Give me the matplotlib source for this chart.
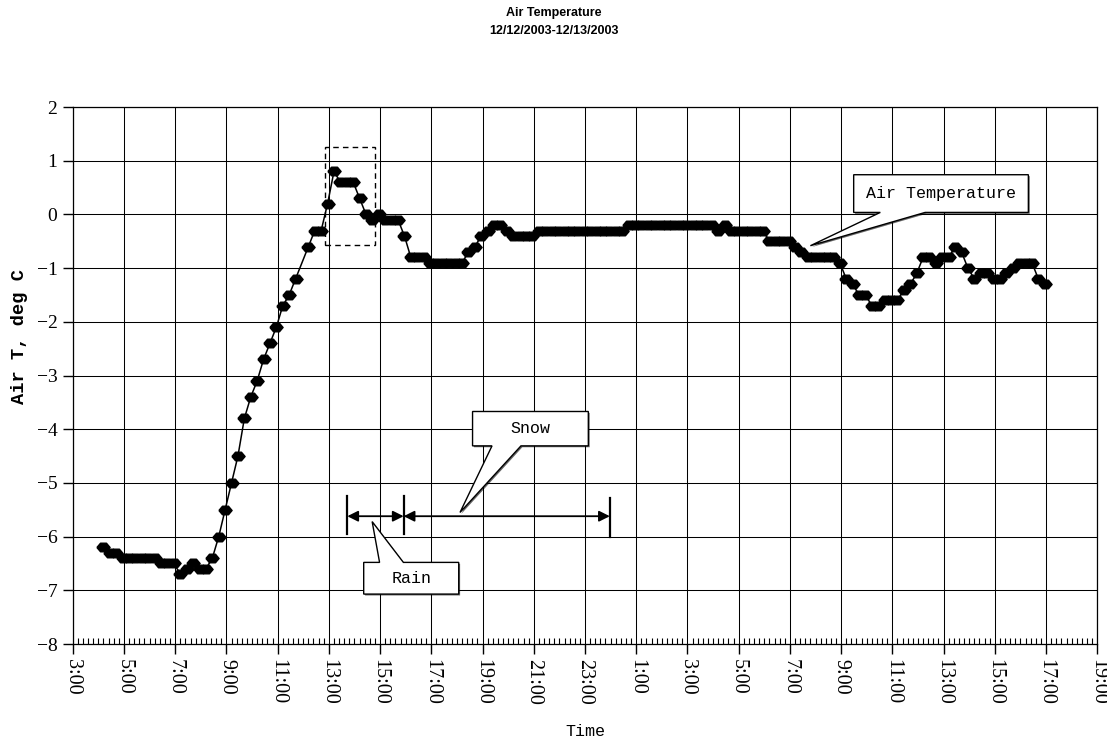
import numpy as np
import matplotlib
matplotlib.use("Agg")
from matplotlib import pyplot as plt
from matplotlib.patches import Polygon, Rectangle
from matplotlib import patheffects as pe

# 15-minute readings, first one at 4:12 on 12/12 (hours counted from midnight 12/12)
start_hour = 4.2
step_hour = 0.25
air_t = [
    -6.2, -6.3, -6.3, -6.4, -6.4, -6.4, -6.4, -6.4, -6.4, -6.5,
    -6.5, -6.5, -6.7, -6.6, -6.5, -6.6, -6.6, -6.4, -6.0, -5.5,
    -5.0, -4.5, -3.8, -3.4, -3.1, -2.7, -2.4, -2.1, -1.7, -1.5,
    -1.2, None, -0.6, -0.3, -0.3, 0.2, 0.8, 0.6, 0.6, 0.6,
    0.3, 0.0, -0.1, 0.0, -0.1, -0.1, -0.1, -0.4, -0.8, -0.8,
    -0.8, -0.9, -0.9, -0.9, -0.9, -0.9, -0.9, -0.7, -0.6, -0.4,
    -0.3, -0.2, -0.2, -0.3, -0.4, -0.4, -0.4, -0.4, -0.3, -0.3,
    -0.3, -0.3, -0.3, -0.3, -0.3, -0.3, -0.3, -0.3, -0.3, -0.3,
    -0.3, -0.3, -0.2, -0.2, -0.2, -0.2, -0.2, -0.2, -0.2, -0.2,
    -0.2, -0.2, -0.2, -0.2, -0.2, -0.2, -0.3, -0.2, -0.3, -0.3,
    -0.3, -0.3, -0.3, -0.3, -0.5, -0.5, -0.5, -0.5, -0.6, -0.7,
    -0.8, -0.8, -0.8, -0.8, -0.8, -0.9, -1.2, -1.3, -1.5, -1.5,
    -1.7, -1.7, -1.6, -1.6, -1.6, -1.4, -1.3, -1.1, -0.8, -0.8,
    -0.9, -0.8, -0.8, -0.6, -0.7, -1.0, -1.2, -1.1, -1.1, -1.2,
    -1.2, -1.1, -1.0, -0.9, -0.9, -0.9, -1.2, -1.3,
]

tick_hours = list(range(3, 44, 2))
tick_labels = ["%d:00" % (h % 24) for h in tick_hours]

# precipitation periods (hours)
rain_start, rain_end, snow_end = 13.72, 15.92, 23.97

mono = ["Liberation Mono", "DejaVu Sans Mono"]
serif = ["Liberation Serif", "DejaVu Serif"]

t = start_hour + step_hour * np.arange(len(air_t))
v = np.array([np.nan if a is None else a for a in air_t], dtype=float)
ok = ~np.isnan(v)

fig = plt.figure(figsize=(11.07, 7.40), dpi=100)
ax = fig.add_axes([0.0657, 0.1297, 0.9255, 0.7257])

hexagon = [(-1, 0), (-0.45, 0.65), (0.45, 0.65), (1, 0), (0.45, -0.65), (-0.45, -0.65), (-1, 0)]
ax.plot(t[ok], v[ok], color="black", lw=1.1, marker=hexagon, ms=9.5,
        mfc="black", mec="black", zorder=3)

ax.set_xlim(3, 43)
ax.set_ylim(-8, 2)
ax.set_xticks(tick_hours)
ax.set_xticklabels(tick_labels, rotation=-90, family=serif, fontsize=14.5)
ax.set_xticks(np.arange(3, 43.01, 0.2), minor=True)
ax.set_yticks(np.arange(-8, 2.1, 1))
for lab in ax.get_yticklabels():
    lab.set_family(serif)
    lab.set_fontsize(14)
ax.tick_params(axis="x", which="major", direction="out", length=7, width=1, pad=4)
ax.tick_params(axis="x", which="minor", direction="in", length=4, width=0.8)
ax.tick_params(axis="y", which="major", direction="out", length=7, width=1, pad=4)
ax.grid(True, which="major", color="black", lw=0.75)
ax.set_axisbelow(True)
for s in ax.spines.values():
    s.set_linewidth(0.9)

# dashed box around the midday peak
ax.add_patch(Rectangle((12.84, -0.577), 14.82 - 12.84, 1.255 + 0.577, fill=False,
                       ls=(0, (4, 3)), lw=1, ec="black", zorder=4))


def callout(x0, x1, y0, y1, b0, b1, tip, text, side="bottom"):
    if side == "bottom":
        verts = [(x0, y1), (x1, y1), (x1, y0), (b1, y0), tip, (b0, y0), (x0, y0)]
    else:
        verts = [(x0, y0), (x1, y0), (x1, y1), (b1, y1), tip, (b0, y1), (x0, y1)]
    p = Polygon(verts, closed=True, fc="white", ec="black", lw=1, zorder=6)
    p.set_path_effects([pe.SimplePatchShadow(offset=(1, -1), shadow_rgbFace="black", alpha=0.6),
                        pe.Normal()])
    ax.add_patch(p)
    ax.text((x0 + x1) / 2, (y0 + y1) / 2, text, ha="center", va="center",
            family=mono, fontsize=12, zorder=7)


callout(33.49, 40.31, 0.037, 0.739, 34.53, 36.28, (31.80, -0.583), "Air Temperature")
callout(18.61, 23.13, -4.31, -3.67, 19.37, 20.50, (18.12, -5.55), "Snow")
callout(14.36, 18.07, -7.07, -6.48, 14.98, 15.91, (14.69, -5.72), "Rain", side="top")

# rain and snow periods
for x, y0, y1 in [(rain_start, -5.96, -5.25), (rain_end, -5.96, -5.25), (snow_end, -6.0, -5.29)]:
    ax.plot([x, x], [y0, y1], color="black", lw=1.6, zorder=5)
for a, b in [(rain_start, rain_end), (rain_end, snow_end)]:
    ax.annotate("", xy=(a, -5.62), xytext=(b, -5.62),
                arrowprops=dict(arrowstyle="<|-|>", color="black", lw=1.3,
                                mutation_scale=16, shrinkA=0, shrinkB=0), zorder=5)

fig.text(0.5, 1 - 13 / 740, "Air Temperature", ha="center", va="center",
         family=["Liberation Sans", "DejaVu Sans"], weight="bold", fontsize=9)
fig.text(0.5, 1 - 31 / 740, "12/12/2003-12/13/2003", ha="center", va="center",
         family=["Liberation Sans", "DejaVu Sans"], weight="bold", fontsize=9)
fig.text(20 / 1107, 1 - 336 / 740, "Air T, deg C", rotation=90, ha="center", va="center",
         family=mono, weight="bold", fontsize=13.5)
fig.text(585 / 1107, 1 - 731 / 740, "Time", ha="center", va="center",
         family=mono, fontsize=12)

fig.savefig("out.png", dpi=100)
